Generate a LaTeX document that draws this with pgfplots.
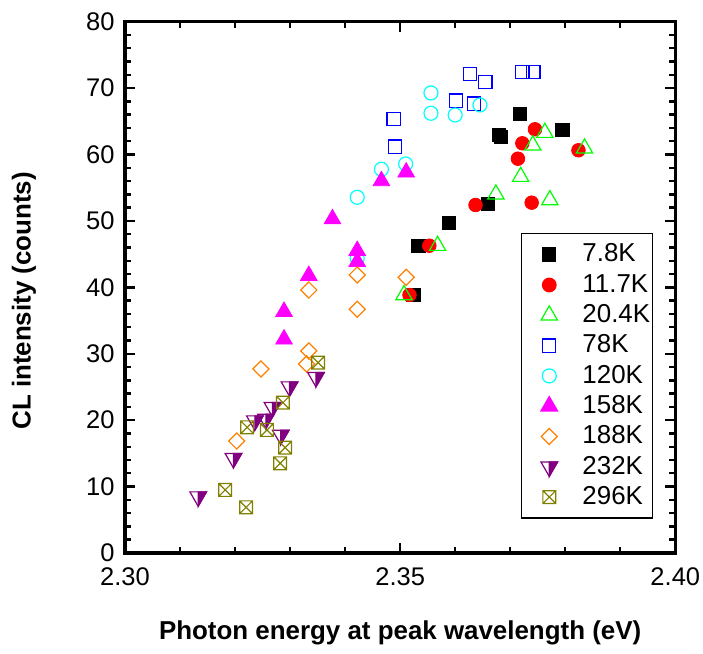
\documentclass[border=0pt]{standalone}
\usepackage{fontspec}
\setmainfont{Liberation Sans}
\usepackage{pgfplots}
\pgfplotsset{compat=1.18}

\definecolor{cgreen}{RGB}{0,255,0}
\definecolor{cblue}{RGB}{0,0,255}
\definecolor{ccyan}{RGB}{0,255,255}
\definecolor{cmag}{RGB}{255,0,255}
\definecolor{corange}{RGB}{255,128,0}
\definecolor{cpurple}{RGB}{128,0,128}
\definecolor{colive}{RGB}{128,128,0}

% half-filled down triangle (right half filled)
\pgfdeclareplotmark{htri}{%
  \pgfpathmoveto{\pgfqpoint{0pt}{-\pgfplotmarksize}}%
  \pgfpathlineto{\pgfqpoint{.866\pgfplotmarksize}{.5\pgfplotmarksize}}%
  \pgfpathlineto{\pgfqpoint{0pt}{.5\pgfplotmarksize}}%
  \pgfpathclose
  \pgfusepathqfillstroke
  \pgfpathmoveto{\pgfqpoint{0pt}{-\pgfplotmarksize}}%
  \pgfpathlineto{\pgfqpoint{.866\pgfplotmarksize}{.5\pgfplotmarksize}}%
  \pgfpathlineto{\pgfqpoint{-.866\pgfplotmarksize}{.5\pgfplotmarksize}}%
  \pgfpathclose
  \pgfusepathqstroke
}
% square with a cross
\pgfdeclareplotmark{boxx}{%
  \pgfpathrectangle{\pgfqpoint{-\pgfplotmarksize}{-\pgfplotmarksize}}{\pgfqpoint{2\pgfplotmarksize}{2\pgfplotmarksize}}%
  \pgfpathmoveto{\pgfqpoint{-\pgfplotmarksize}{-\pgfplotmarksize}}%
  \pgfpathlineto{\pgfqpoint{\pgfplotmarksize}{\pgfplotmarksize}}%
  \pgfpathmoveto{\pgfqpoint{-\pgfplotmarksize}{\pgfplotmarksize}}%
  \pgfpathlineto{\pgfqpoint{\pgfplotmarksize}{-\pgfplotmarksize}}%
  \pgfusepathqstroke
}

\begin{document}
\begin{tikzpicture}
\begin{axis}[
  scale only axis,
  width=275.15bp, height=265.65bp,
  xmin=2.30, xmax=2.40, ymin=0, ymax=80,
  xtick={2.30,2.35,2.40}, ytick={0,10,...,80},
  minor x tick num=4, minor y tick num=4,
  tick align=inside,
  major tick length=5bp, minor tick length=3.2bp,
  tick style={black, line width=1.2bp},
  axis line style={line width=1.6bp},
  /pgf/number format/assume math mode=true,
  xticklabel={\pgfmathprintnumber[fixed,fixed zerofill,precision=2]{\tick}},
  ticklabel style={font=\fontsize{12.8}{15}\selectfont, inner sep=0bp},
  xticklabel style={yshift=-7bp},
  yticklabel style={xshift=-5bp},
  xlabel={Photon energy at peak wavelength (eV)},
  ylabel={CL intensity (counts)},
  label style={font=\bfseries\fontsize{13}{15}\selectfont},
  xlabel style={at={(axis description cs:0.5,-0.1506)}, anchor=center},
  ylabel style={at={(axis description cs:-0.1835,0.4746)}, anchor=center},
  only marks,
  legend style={at={(0.719,0.602)}, anchor=north west, draw=black, line width=0.6bp,
    font=\fontsize{13}{15}\selectfont, inner xsep=0bp, inner ysep=2.9bp,
    row sep=0bp, column sep=0bp,
    nodes={inner sep=1bp, text height=10.2bp, text depth=2.95bp}},
  legend cell align=left,
  legend image code/.code={\path (0bp,0bp) (29bp,0bp); \draw[#1] plot coordinates {(13.7bp,0bp)};},
]
\coordinate (sw) at (rel axis cs:0,0);
\coordinate (ne) at (rel axis cs:1,1);

\addplot[mark=square*, mark size=3.3bp, draw=black, fill=black] coordinates {
(2.3524,38.85) (2.3533,46.27) (2.3589,49.74) (2.3660,52.55)
(2.3680,62.94) (2.3683,62.69) (2.3717,66.10) (2.3795,63.65)};
\addlegendentry{7.8K}

\addplot[mark=*, mark size=3.4bp, draw=red, fill=red] coordinates {
(2.3517,38.85) (2.3553,46.27) (2.3637,52.40) (2.3739,52.75)
(2.3714,59.37) (2.3722,61.69) (2.3745,63.80) (2.3824,60.64)};
\addlegendentry{11.7K}

\addplot[mark=triangle, mark size=4.7bp, draw=cgreen, mark options={line width=0.6bp}] coordinates {
(2.3507,38.85) (2.3568,46.27) (2.3674,54.01) (2.3719,56.66)
(2.3772,53.15) (2.3741,61.39) (2.3763,63.29) (2.3835,60.94)};
\addlegendentry{20.4K}

\addplot[mark=square, mark size=3.3bp, draw=cblue, mark options={line width=0.6bp}] coordinates {
(2.3488,65.35) (2.3491,61.18) (2.3601,68.11) (2.3634,67.66)
(2.3627,72.08) (2.3655,70.88) (2.3722,72.43) (2.3742,72.43)};
\addlegendentry{78K}

\addplot[mark=o, mark size=3.5bp, draw=ccyan, mark options={line width=0.6bp}] coordinates {
(2.3422,44.38) (2.3422,53.56) (2.3466,57.78) (2.3510,58.58)
(2.3556,66.21) (2.3556,69.27) (2.3600,65.95) (2.3645,67.46)};
\addlegendentry{120K}

\addplot[mark=triangle*, mark size=4.8bp, draw=cmag, fill=cmag] coordinates {
(2.3289,32.18) (2.3289,36.34) (2.3334,41.76) (2.3422,43.86)
(2.3422,45.52) (2.3377,50.29) (2.3466,56.02) (2.3511,57.33)};
\addlegendentry{158K}

\addplot[mark=square, mark size=2.85bp, draw=corange, mark options={rotate=45, line width=0.6bp}] coordinates {
(2.3203,16.86) (2.3247,27.71) (2.3330,28.46) (2.3334,30.42)
(2.3334,39.60) (2.3422,36.70) (2.3422,41.86) (2.3511,41.51)};
\addlegendentry{188K}

\addplot[mark=htri, mark size=4.8bp, draw=cpurple, fill=cpurple, mark options={line width=0.6bp}] coordinates {
(2.3133,8.48) (2.3197,14.26) (2.3236,19.92) (2.3256,20.18)
(2.3268,21.94) (2.3283,17.77) (2.3299,25.04) (2.3347,26.46)};
\addlegendentry{232K}

\addplot[mark=boxx, mark size=3.2bp, draw=colive, mark options={line width=0.6bp}] coordinates {
(2.3182,9.49) (2.3220,6.88) (2.3222,18.93) (2.3258,18.52)
(2.3287,22.63) (2.3291,15.86) (2.3282,13.51) (2.3351,28.66)};
\addlegendentry{296K}
\end{axis}
\pgfresetboundingbox
\path[use as bounding box] ([shift={(-62.5bp,-50.5bp)}]sw) rectangle ([shift={(13.85bp,10.85bp)}]ne);
\end{tikzpicture}
\end{document}
